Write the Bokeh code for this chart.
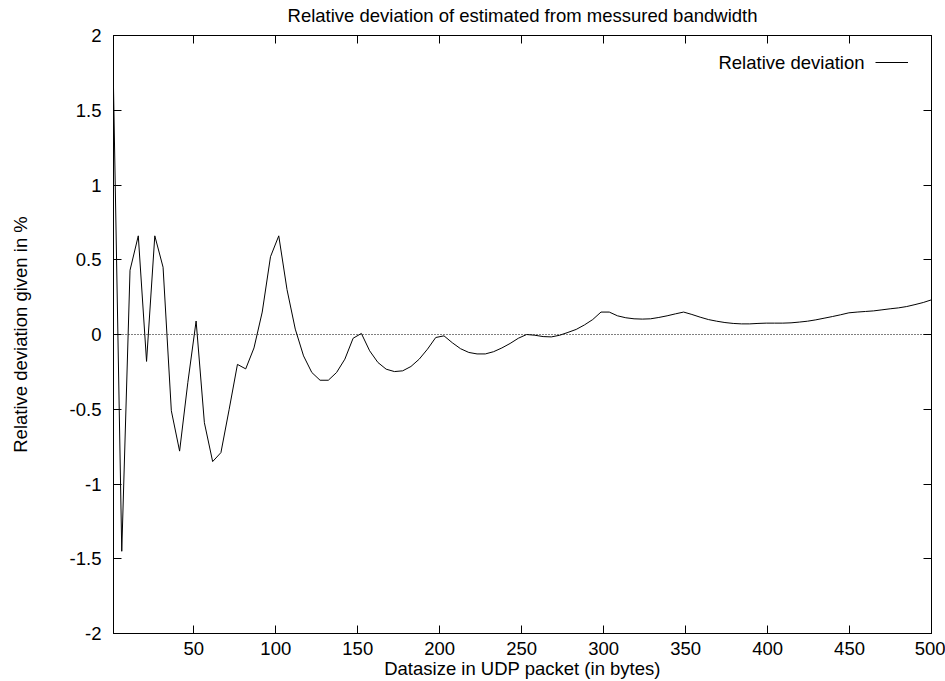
from bokeh.plotting import figure
from bokeh.models import (Range1d, FixedTicker, LinearAxis, Span, Legend, LegendItem, Label,
                          CustomLabelingPolicy)
from bokeh.embed import file_html
from bokeh.resources import INLINE

# ---- data ----
datasize = [1.0, 6.04, 11.08, 16.12, 21.16, 26.2, 31.24, 36.28, 41.32, 46.36,
            51.4, 56.44, 61.48, 66.53, 71.57, 76.61, 81.65, 86.69, 91.73, 96.77,
            101.81, 106.85, 111.89, 116.93, 121.97, 127.01, 132.05, 137.09, 142.13, 147.17,
            152.21, 157.25, 162.29, 167.33, 172.37, 177.41, 182.45, 187.49, 192.54, 197.58,
            202.62, 207.66, 212.7, 217.74, 222.78, 227.82, 232.86, 237.9, 242.94, 247.98,
            253.02, 258.06, 263.1, 268.14, 273.18, 278.22, 283.26, 288.3, 293.34, 298.38,
            303.42, 308.46, 313.51, 318.55, 323.59, 328.63, 333.67, 338.71, 343.75, 348.79,
            353.83, 358.87, 363.91, 368.95, 373.99, 379.03, 384.07, 389.11, 394.15, 399.19,
            404.23, 409.27, 414.31, 419.35, 424.39, 429.43, 434.47, 439.52, 444.56, 449.6,
            454.64, 459.68, 464.72, 469.76, 474.8, 479.84, 484.88, 489.92, 494.96, 500.0]

rel_dev = [1.65, -1.45, 0.43, 0.66, -0.18, 0.66, 0.45, -0.51, -0.78, -0.32,
           0.09, -0.59, -0.85, -0.79, -0.50, -0.20, -0.23, -0.09, 0.15, 0.52,
           0.66, 0.30, 0.036, -0.143, -0.254, -0.306, -0.306, -0.254, -0.165, -0.025,
           0.007, -0.109, -0.187, -0.232, -0.248, -0.243, -0.214, -0.165, -0.098, -0.02,
           -0.009, -0.055, -0.095, -0.12, -0.13, -0.13, -0.115, -0.09, -0.06, -0.025,
           0.0, -0.005, -0.014, -0.016, -0.005, 0.014, 0.034, 0.064, 0.10, 0.15,
           0.15, 0.125, 0.112, 0.105, 0.103, 0.105, 0.114, 0.125, 0.138, 0.15,
           0.134, 0.116, 0.10, 0.089, 0.08, 0.074, 0.071, 0.071, 0.074, 0.076,
           0.076, 0.076, 0.078, 0.083, 0.089, 0.098, 0.109, 0.12, 0.132, 0.145,
           0.15, 0.154, 0.158, 0.165, 0.172, 0.178, 0.187, 0.20, 0.214, 0.232]

x_ticks = [50, 100, 150, 200, 250, 300, 350, 400, 450, 500]
y_ticks = [-2, -1.5, -1, -0.5, 0, 0.5, 1, 1.5, 2]
y_tick_labels = ["-2", "-1.5", "-1", "-0.5", "0", "0.5", "1", "1.5", "2"]

title_text = "Relative deviation of estimated from messured bandwidth"
x_label = "Datasize in UDP packet (in bytes)"
y_label = "Relative deviation given in %"
series_name = "Relative deviation"

FONT = "Liberation Sans"
FS = "18.5px"

p = figure(width=945, height=681, output_backend="svg", toolbar_location=None,
           x_range=Range1d(1, 500), y_range=Range1d(-2, 2),
           min_border_left=113, min_border_right=14, min_border_top=35, min_border_bottom=48,
           title=title_text)

p.background_fill_color = "white"
p.border_fill_color = "white"
p.outline_line_color = "black"
p.outline_line_width = 1
p.grid.visible = False

p.title.align = "center"
p.title.vertical_align = "top"
p.title.text_font = FONT
p.title.text_font_size = FS
p.title.text_font_style = "normal"
p.title.text_color = "black"
p.title.standoff = 7

hide_all = CustomLabelingPolicy(code="""
try { for (let i = 0; i < indices.size; i++) { indices.unset(i) } } catch (e) {}
return indices
""")

def style_axis(ax, ticks, show_labels):
    ax.ticker = FixedTicker(ticks=ticks)
    ax.major_tick_in = 8
    ax.major_tick_out = 0
    ax.minor_tick_in = 0
    ax.minor_tick_out = 0
    ax.minor_tick_line_color = None
    ax.axis_line_color = "black"
    ax.major_tick_line_color = "black"
    ax.major_tick_line_width = 1
    ax.major_label_text_font = FONT
    ax.major_label_text_color = "black"
    if show_labels:
        ax.major_label_text_font_size = FS
    else:
        ax.major_label_text_font_size = "1px"
        ax.major_label_standoff = 0
        ax.major_label_policy = hide_all

xa = p.xaxis[0]
style_axis(xa, x_ticks, True)
xa.major_label_standoff = 8
xa.axis_label = x_label
xa.axis_label_text_font = FONT
xa.axis_label_text_font_size = FS
xa.axis_label_text_font_style = "normal"
xa.axis_label_text_color = "black"
xa.axis_label_standoff = 0

ya = p.yaxis[0]
style_axis(ya, y_ticks, True)
ya.major_label_standoff = 12
ya.major_label_overrides = {t: s for t, s in zip(y_ticks, y_tick_labels)}
ya.axis_label = y_label
ya.axis_label_text_font = FONT
ya.axis_label_text_font_size = FS
ya.axis_label_text_font_style = "normal"
ya.axis_label_text_color = "black"
ya.axis_label_standoff = 36

top_ax = LinearAxis()
style_axis(top_ax, x_ticks, False)
p.add_layout(top_ax, "above")
right_ax = LinearAxis()
style_axis(right_ax, y_ticks, False)
p.add_layout(right_ax, "right")

p.add_layout(Span(location=0, dimension="width", line_color="black",
                  line_width=1, line_dash="1 2"))

r = p.line(datasize, rel_dev, line_color="black", line_width=1)

legend = Legend(items=[LegendItem(label=" ", renderers=[r])], location="top_right",
                border_line_color=None, background_fill_alpha=0,
                glyph_width=33, label_standoff=6, label_width=0, padding=0, margin=17,
                label_text_font=FONT, label_text_font_size=FS)
p.add_layout(legend)

# legend text sits left of its sample line, as in the reference
# (screen units here are measured from the frame's lower-left corner)
p.add_layout(Label(x=751, y=571, x_units="screen", y_units="screen",
                   text=series_name, text_align="right", text_baseline="middle",
                   text_font=FONT, text_font_size=FS, text_color="black"))

open("out.html", "w").write(file_html(p, INLINE))
